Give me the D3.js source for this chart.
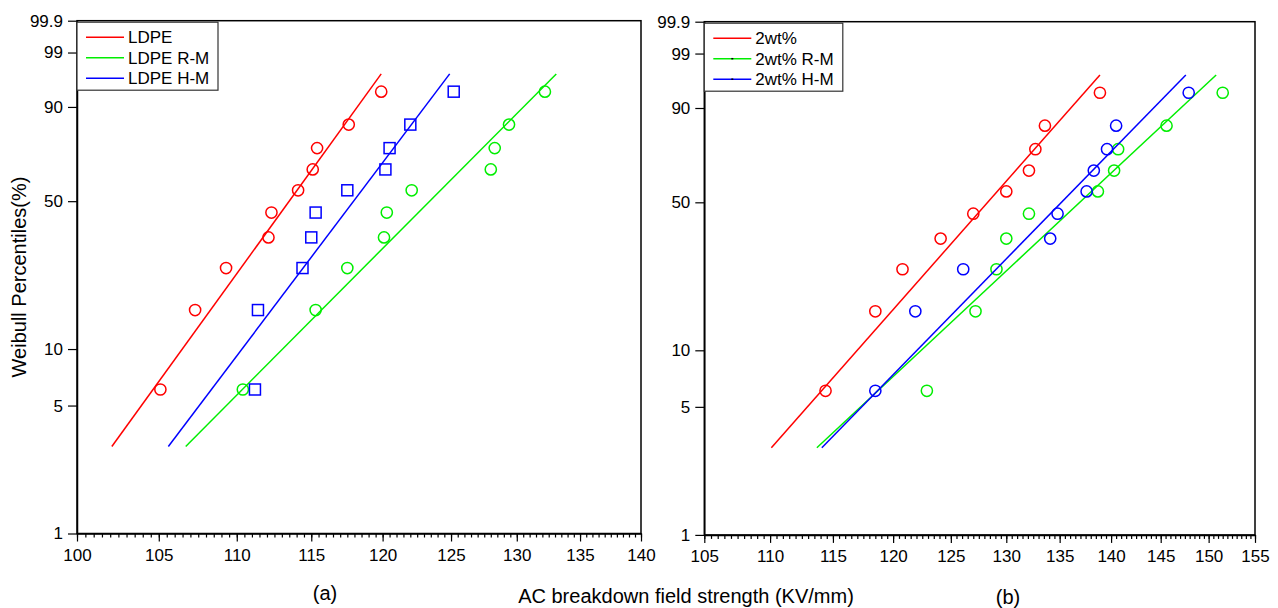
<!DOCTYPE html>
<html>
  <head>
    <script src="https://d3js.org/d3.v7.min.js"></script>
    <style>
      body { margin: 0; background: #fff; }
      text { font-family: "Liberation Sans", Arial, sans-serif; }
    </style>
  </head>
  <body>
    <div id="graph"></div>
  <script>

    // percentile of each of the 10 ranked samples (%)
    var ranks = [6.1, 15.9, 25.6, 35.4, 45.1, 54.9, 64.6, 74.4, 84.1, 93.9];

    // panel (a) breakdown strength, kV/mm
    var ldpe    = [105.1, 107.3, 109.3, 112.1, 112.3, 114.1, 115.1, 115.4, 117.6, 119.9];
    var ldpeRM  = [110.4, 115.3, 117.5, 120.1, 120.3, 122.1, 128.0, 128.3, 129.4, 132.2];
    var ldpeHM  = [111.2, 111.4, 114.4, 115.0, 115.3, 117.5, 120.2, 120.5, 122.0, 125.2];

    // panel (b)
    var wt2     = [114.4, 118.5, 120.8, 124.1, 127.0, 130.0, 132.1, 132.7, 133.6, 138.9];
    var wt2RM   = [122.9, 127.2, 129.1, 130.0, 132.1, 138.7, 140.3, 140.7, 145.6, 151.5];
    var wt2HM   = [118.5, 121.9, 126.1, 134.1, 134.8, 137.6, 138.3, 139.6, 140.5, 147.9];

    // fitted lines: strength at 3% and at 97%
    var fitPct  = [3, 97];
    var fitLDPE   = [102.1, 119.9];
    var fitLDPERM = [106.7, 133.1];
    var fitLDPEHM = [105.6, 124.9];
    var fit2      = [110.1, 138.9];
    var fit2RM    = [113.7, 150.8];
    var fit2HM    = [114.1, 147.6];

    var yTicks = [1, 5, 10, 50, 90, 99, 99.9];
    var xTicksA = [100, 105, 110, 115, 120, 125, 130, 135, 140];
    var xTicksB = [105, 110, 115, 120, 125, 130, 135, 140, 145, 150, 155];

    var red = "#ff0000", green = "#00ee00", blue = "#0000ff";

    // weibull probability transform
    function weib(p) { return Math.log(-Math.log(1 - p / 100)); }

    var svg = d3.select("#graph")
                .append("svg")
                .attr("width", 1278)
                .attr("height", 608);

    function panel(opt) {
      var x = d3.scaleLog().domain(opt.xDomain).range([opt.left, opt.right]);
      var y = d3.scaleLinear().domain([weib(1), weib(99.9)]).range([opt.bottom, opt.top]);
      var g = svg.append("g");

      // frame
      g.append("rect")
        .attr("x", opt.left).attr("y", opt.top)
        .attr("width", opt.right - opt.left).attr("height", opt.bottom - opt.top)
        .attr("fill", "none").attr("stroke", "#000").attr("stroke-width", 1.5);

      // minor x ticks
      var minor = d3.range(opt.xDomain[0], opt.xDomain[1] + 0.01, 0.5);
      g.append("g")
        .attr("transform", "translate(0," + opt.bottom + ")")
        .call(d3.axisBottom(x).tickValues(minor).tickSize(4).tickFormat(""))
        .call(a => a.select(".domain").remove())
        .selectAll("line").attr("stroke-width", 1.2);

      var xAxis = g.append("g")
        .attr("transform", "translate(0," + opt.bottom + ")")
        .call(d3.axisBottom(x).tickValues(opt.xTicks).tickSize(8).tickSizeOuter(0).tickPadding(7).tickFormat(d3.format("d")));
      xAxis.select(".domain").attr("stroke-width", 1.5);
      xAxis.selectAll("line").attr("stroke-width", 1.2);
      xAxis.selectAll("text").attr("font-size", 17).attr("fill", "#000");

      var yAxis = g.append("g")
        .attr("transform", "translate(" + opt.left + ",0)")
        .call(d3.axisLeft(y).tickValues(yTicks.map(weib)).tickSize(9).tickSizeOuter(0).tickPadding(5)
                .tickFormat((d, i) => yTicks[i]));
      yAxis.select(".domain").attr("stroke-width", 1.5);
      yAxis.selectAll("line").attr("stroke-width", 1.2);
      yAxis.selectAll("text").attr("font-size", 17).attr("fill", "#000");

      opt.series.forEach(function(s) {
        g.append("path")
          .datum(fitPct.map((p, i) => [s.fit[i], p]))
          .attr("fill", "none")
          .attr("stroke", s.color)
          .attr("stroke-width", 1.5)
          .attr("d", d3.line().x(d => x(d[0])).y(d => y(weib(d[1]))));

        var pts = s.values.map((v, i) => [v, ranks[i]]);
        if (s.shape == "square") {
          g.selectAll(null).data(pts).enter().append("rect")
            .attr("x", d => x(d[0]) - 5.5)
            .attr("y", d => y(weib(d[1])) - 5.5)
            .attr("width", 11).attr("height", 11)
            .attr("fill", "none").attr("stroke", s.color).attr("stroke-width", 1.5);
        } else {
          g.selectAll(null).data(pts).enter().append("circle")
            .attr("cx", d => x(d[0]))
            .attr("cy", d => y(weib(d[1])))
            .attr("r", 5.6)
            .attr("fill", "none").attr("stroke", s.color).attr("stroke-width", 1.5);
        }
      });

      // legend
      var lg = g.append("g").attr("transform", "translate(" + opt.left + "," + (opt.top + 1.5) + ")");
      lg.append("rect")
        .attr("x", 0).attr("y", 0)
        .attr("width", opt.legendW).attr("height", 68)
        .attr("fill", "#fff").attr("stroke", "#333").attr("stroke-width", 1.2);
      opt.series.forEach(function(s, i) {
        var row = lg.append("g").attr("transform", "translate(0," + (15 + i * 20.5) + ")");
        row.append("line")
          .attr("x1", 9).attr("x2", 47).attr("y1", 0).attr("y2", 0)
          .attr("stroke", s.color).attr("stroke-width", 1.5);
        if (opt.dots && i > 0) {
          row.append("rect").attr("x", 27).attr("y", -0.75).attr("width", 2).attr("height", 1.5).attr("fill", "#000");
        }
        row.append("text")
          .attr("x", 51).attr("y", 6)
          .attr("font-size", 17)
          .text(s.name);
      });

      svg.append("text")
        .attr("x", opt.subX).attr("y", opt.subY)
        .attr("text-anchor", "middle")
        .attr("font-size", 20)
        .text(opt.sub);
    }

    panel({
      left: 77, right: 641, top: 20.7, bottom: 533.5,
      xDomain: [100, 140], xTicks: xTicksA, legendW: 141, sub: "(a)", subX: 325, subY: 600, dots: false,
      series: [
        {name: "LDPE", values: ldpe, fit: fitLDPE, color: red, shape: "circle"},
        {name: "LDPE R-M", values: ldpeRM, fit: fitLDPERM, color: green, shape: "circle"},
        {name: "LDPE H-M", values: ldpeHM, fit: fitLDPEHM, color: blue, shape: "square"}
      ]
    });

    panel({
      left: 704.3, right: 1255, top: 21.7, bottom: 534.9,
      xDomain: [105, 155], xTicks: xTicksB, legendW: 138.5, sub: "(b)", subX: 1008, subY: 604, dots: true,
      series: [
        {name: "2wt%", values: wt2, fit: fit2, color: red, shape: "circle"},
        {name: "2wt% R-M", values: wt2RM, fit: fit2RM, color: green, shape: "circle"},
        {name: "2wt% H-M", values: wt2HM, fit: fit2HM, color: blue, shape: "circle"}
      ]
    });

    // axis titles
    svg.append("text")
      .attr("transform", "translate(26,277) rotate(-90)")
      .attr("text-anchor", "middle")
      .attr("font-size", 20)
      .text("Weibull Percentiles(%)");

    svg.append("text")
      .attr("x", 686).attr("y", 603)
      .attr("text-anchor", "middle")
      .attr("font-size", 20)
      .text("AC breakdown field strength (KV/mm)");

  </script>
  </body>
</html>
